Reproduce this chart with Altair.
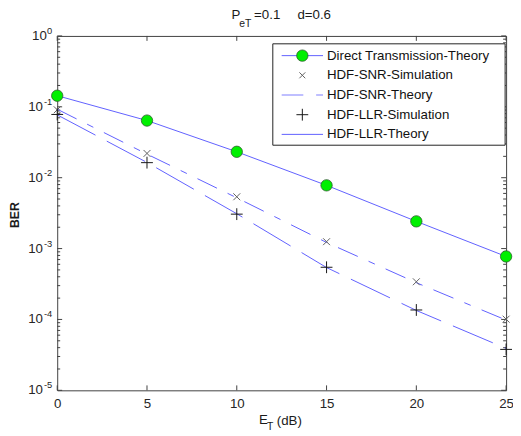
import altair as alt
import pandas as pd

# ---------------- data ----------------
et_db = [0, 5, 10, 15, 20, 25]
direct_theory = [0.1435, 0.064, 0.0232, 0.0078, 0.00242, 0.000774]
snr_sim = [0.0908, 0.0220, 0.00538, 0.00125, 0.00034, 0.000101]
snr_theory = [0.0925, 0.0215, 0.0052, 0.00122, 0.00033, 0.000098]
llr_sim = [0.078, 0.0163, 0.00306, 0.000545, 0.000136, 0.0000378]
llr_theory = [0.077, 0.0164, 0.0031, 0.00054, 0.000134, 0.000039]

legend_labels = ["Direct Transmission-Theory", "HDF-SNR-Simulation",
                 "HDF-SNR-Theory", "HDF-LLR-Simulation", "HDF-LLR-Theory"]
x_tick_values = [0, 5, 10, 15, 20, 25]
y_decade_exponents = [-5, -4, -3, -2, -1, 0]
minor_mantissas = [2, 3, 4, 5, 6, 7, 8, 9]

# ---------------- frames ----------------
df = pd.DataFrame({"x": et_db, "direct": direct_theory, "snr_sim": snr_sim,
                   "snr_th": snr_theory, "llr_sim": llr_sim, "llr_th": llr_theory})
xt = pd.DataFrame({"x": x_tick_values})
yd = pd.DataFrame({"e": y_decade_exponents})
yd["val"] = [10.0 ** e for e in y_decade_exponents]
ym = pd.DataFrame({"val": [m * 10.0 ** e for e in y_decade_exponents[:-1] for m in minor_mantissas]})
leg = pd.DataFrame({"label": legend_labels, "idx": list(range(len(legend_labels)))})
one = pd.DataFrame({"a": [0]})

W, H = 456, 360
FONT = "Liberation Sans"
BLUE = "#5f5fff"

xs = alt.Scale(domain=[0, 25], nice=False, zero=False)
ys = alt.Scale(type="log", domain=[1e-5, 1], nice=False)

x_axis = alt.Axis(values=x_tick_values, ticks=False, tickSize=0, domain=False, grid=False,
                  labelPadding=6, labelFontSize=13.5, labelColor="#262626", labelFont=FONT,
                  labelFlush=False, labelOverlap=False, title=None)

base = alt.Chart(df)

def X(field):
    return alt.X(field, type="quantitative", scale=xs, axis=x_axis)

def Y(field):
    return alt.Y(field, type="quantitative", scale=ys, axis=None)

# inner ticks
tick_col = "#404040"
xt_bottom = alt.Chart(xt).mark_rule(color=tick_col, strokeWidth=1).encode(
    x=X("x"), y=alt.value(H), y2=alt.value(H - 5))
xt_top = alt.Chart(xt).mark_rule(color=tick_col, strokeWidth=1).encode(
    x=X("x"), y=alt.value(0), y2=alt.value(5))
yt_left = alt.Chart(yd).mark_rule(color=tick_col, strokeWidth=1).encode(
    y=Y("val"), x=alt.value(0), x2=alt.value(5))
yt_right = alt.Chart(yd).mark_rule(color=tick_col, strokeWidth=1).encode(
    y=Y("val"), x=alt.value(W), x2=alt.value(W - 5))
ym_left = alt.Chart(ym).mark_rule(color=tick_col, strokeWidth=1).encode(
    y=Y("val"), x=alt.value(0), x2=alt.value(3))
ym_right = alt.Chart(ym).mark_rule(color=tick_col, strokeWidth=1).encode(
    y=Y("val"), x=alt.value(W), x2=alt.value(W - 3))

# y tick labels 10^k
ylab_exp = alt.Chart(yd).transform_calculate(t="toString(datum.e)").mark_text(
    align="right", baseline="alphabetic", fontSize=9.5, font=FONT, color="#262626", dy=-2).encode(
    y=Y("val"), x=alt.value(-5), text="t:N")
ylab_10a = alt.Chart(yd).transform_filter("datum.e == 0").mark_text(
    align="right", baseline="middle", fontSize=13.5, font=FONT, color="#262626").encode(
    y=Y("val"), x=alt.value(-10.5), text=alt.value("10"))
ylab_10b = alt.Chart(yd).transform_filter("datum.e != 0").mark_text(
    align="right", baseline="middle", fontSize=13.5, font=FONT, color="#262626").encode(
    y=Y("val"), x=alt.value(-14.5), text=alt.value("10"))

# data series
direct_line = base.mark_line(color=BLUE, strokeWidth=1).encode(x=X("x"), y=Y("direct"))
snr_line = base.mark_line(color=BLUE, strokeWidth=1, strokeDash=[22, 12, 7, 12]).encode(
    x=X("x"), y=Y("snr_th"))
llr_line = base.mark_line(color=BLUE, strokeWidth=1, strokeDash=[44, 13]).encode(
    x=X("x"), y=Y("llr_th"))
direct_pts = base.mark_point(filled=True, fill="#00f000", stroke="#2f5a2f", strokeWidth=0.8,
                             size=133, opacity=1, shape="circle").encode(x=X("x"), y=Y("direct"))
XSHAPE = "M-1,-1L1,1M1,-1L-1,1"
PSHAPE = "M-1,0L1,0M0,-1L0,1"
snr_pts = base.mark_point(filled=False, shape=XSHAPE, size=49, stroke="#606060",
                          strokeWidth=1, opacity=1).encode(x=X("x"), y=Y("snr_sim"))
llr_pts = base.mark_point(filled=False, shape=PSHAPE, size=144, stroke="#151515",
                          strokeWidth=1, opacity=1).encode(x=X("x"), y=Y("llr_sim"))

# legend
lg_box = alt.Chart(one).mark_rect(fill="white", stroke="#222222", strokeWidth=1).encode(
    x=alt.value(219), x2=alt.value(455), y=alt.value(8), y2=alt.value(111))
lg_text = alt.Chart(leg).transform_calculate(ly="20 + 20 * datum.idx").mark_text(
    align="left", baseline="middle", fontSize=13.5, font=FONT, color="#111111").encode(
    x=alt.value(274), y=alt.Y("ly:Q", scale=None, axis=None), text="label:N")
lg_l1 = alt.Chart(one).mark_rule(color=BLUE, strokeWidth=1).encode(
    x=alt.value(228), x2=alt.value(270), y=alt.value(20))
lg_p1 = alt.Chart(one).mark_point(filled=True, fill="#00f000", stroke="#2f5a2f", strokeWidth=0.8,
                                  size=133, opacity=1, shape="circle").encode(
    x=alt.value(249), y=alt.value(20))
lg_p2 = alt.Chart(one).mark_point(filled=False, shape=XSHAPE, size=36, stroke="#606060",
                                  strokeWidth=1, opacity=1).encode(x=alt.value(249), y=alt.value(40))
lg_l3 = alt.Chart(one).mark_rule(color="#8080ff", strokeWidth=1.2, strokeDash=[22, 13, 7, 13]).encode(
    x=alt.value(228), x2=alt.value(270), y=alt.value(60))
lg_p4 = alt.Chart(one).mark_point(filled=False, shape=PSHAPE, size=144, stroke="#151515",
                                  strokeWidth=1, opacity=1).encode(x=alt.value(249), y=alt.value(80))
lg_l5 = alt.Chart(one).mark_rule(color=BLUE, strokeWidth=1).encode(
    x=alt.value(228), x2=alt.value(270), y=alt.value(100))

# title  P_eT=0.1   d=0.6
def txt(s, x, y, size=13.5, weight="normal", angle=0, align="left"):
    return alt.Chart(one).mark_text(text=s, align=align, baseline="alphabetic", fontSize=size,
                                    font=FONT, color="#1a1a1a", fontWeight=weight,
                                    angle=angle).encode(x=alt.value(x), y=alt.value(y))

title_parts = [
    txt("P", 177, -17),
    txt("eT", 185, -9, size=10.5),
    txt("=0.1", 200, -17),
    txt("d=0.6", 244, -17),
]
xtitle_parts = [
    txt("E", 205, 394),
    txt("T", 213, 400, size=10.5),
    txt("(dB)", 223, 395),
]
ytitle = alt.Chart(one).mark_text(text="BER", align="center", baseline="middle", fontSize=12.5,
                                  font=FONT, fontWeight="bold", color="#1a1a1a", angle=270).encode(
    x=alt.value(-43), y=alt.value(182))

chart = alt.layer(
    xt_bottom, xt_top, yt_left, yt_right, ym_left, ym_right,
    ylab_exp, ylab_10a, ylab_10b,
    direct_line, snr_line, llr_line, direct_pts, snr_pts, llr_pts,
    lg_box, lg_text, lg_l1, lg_p1, lg_p2, lg_l3, lg_p4, lg_l5,
    *title_parts, *xtitle_parts, ytitle,
).properties(
    width=W, height=H,
    autosize=alt.AutoSizeParams(type="none"),
    padding={"left": 50, "top": 25, "right": 7, "bottom": 42},
    background="white",
).configure_view(stroke="#404040", strokeWidth=1)

chart.save("out.html", embed_options={"renderer": "svg", "actions": False})
